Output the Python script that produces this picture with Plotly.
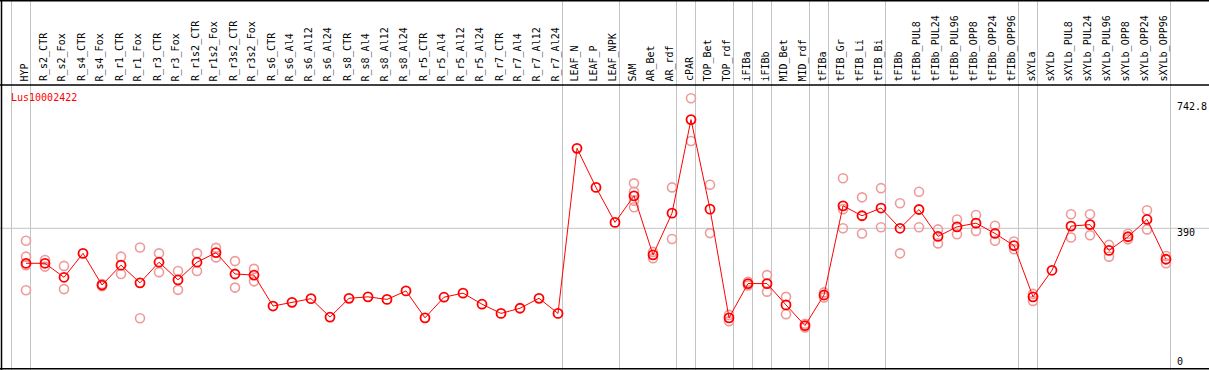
import plotly.graph_objects as go

categories = ["HYP", "R_s2_CTR", "R_s2_Fox", "R_s4_CTR", "R_s4_Fox", "R_r1_CTR", "R_r1_Fox",
              "R_r3_CTR", "R_r3_Fox", "R_r1s2_CTR", "R_r1s2_Fox", "R_r3s2_CTR", "R_r3s2_Fox",
              "R_s6_CTR", "R_s6_Al4", "R_s6_Al12", "R_s6_Al24", "R_s8_CTR", "R_s8_Al4",
              "R_s8_Al12", "R_s8_Al24", "R_r5_CTR", "R_r5_Al4", "R_r5_Al12", "R_r5_Al24",
              "R_r7_CTR", "R_r7_Al4", "R_r7_Al12", "R_r7_Al24", "LEAF_N", "LEAF_P", "LEAF_NPK",
              "SAM", "AR_Bet", "AR_rdf", "cPAR", "TOP_Bet", "TOP_rdf", "iFIBa", "iFIBb",
              "MID_Bet", "MID_rdf", "tFIBa", "tFIB_Gr", "tFIB_Li", "tFIB_Bi", "tFIBb",
              "tFIBb_PUL8", "tFIBb_PUL24", "tFIBb_PUL96", "tFIBb_OPP8", "tFIBb_OPP24",
              "tFIBb_OPP96", "sXYLa", "sXYLb", "sXYLb_PUL8", "sXYLb_PUL24", "sXYLb_PUL96",
              "sXYLb_OPP8", "sXYLb_OPP24", "sXYLb_OPP96"]

means = [295, 295, 257, 322, 236, 290, 242, 298, 250, 298, 324, 266, 263,
         179, 189, 199, 149, 200, 204, 197, 220, 147, 203, 214, 184,
         159, 173, 200, 159, 607, 501, 406,
         478, 318, 431, 685, 442, 147, 240, 240,
         182, 126, 209, 451, 424, 445, 390,
         441, 368, 394, 404, 376, 343,
         204, 276, 396, 400, 330, 367, 414, 306]

replicates = [[356, 313, 290, 222], [304, 286], [288, 225], [], [239, 233], [313, 266], [338, 146],
              [322, 271], [274, 223], [322, 274], [337, 311], [301, 229], [280, 246],
              [], [], [], [], [], [], [], [], [], [], [], [],
              [], [], [], [], [], [], [],
              [512, 489, 465, 447], [326, 309], [501, 361], [742.8, 627], [508, 377], [155, 138],
              [245, 235], [263, 218],
              [204, 157], [131, 121], [216, 202], [526, 442, 390], [474, 376], [499, 393],
              [458, 322],
              [489, 393], [387, 349], [414, 374], [426, 383], [397, 356], [354, 333],
              [212, 193], [], [428, 365], [428, 371], [345, 313], [375, 360], [439, 387],
              [315, 295]]

group_ends = [-1, 0, 28, 31, 34, 35, 37, 38, 39, 41, 42, 45, 52, 53, 60]
ref_value = 390
max_value = 742.8
gene = "Lus10002422"

W, H = 1209, 370
x0px, dxpx = 26, 19
header_px = 85
zero_px = 372
k = (zero_px - 98.3) / max_value  # px per unit

xs = list(range(len(categories)))
x_range = [-x0px / dxpx, (W - x0px) / dxpx]
y_range = [(zero_px - H) / k, (zero_px - header_px) / k]

rx, ry = [], []
for i, reps in enumerate(replicates):
    for v in reps:
        rx.append(i)
        ry.append(v)

fig = go.Figure()
fig.add_trace(go.Scatter(x=rx, y=ry, mode="markers",
                         marker=dict(symbol="circle-open", size=9, color="#EE9A9A",
                                     line=dict(width=1.6, color="#EE9A9A")),
                         hoverinfo="skip", showlegend=False))
fig.add_trace(go.Scatter(x=xs, y=means, mode="lines+markers",
                         line=dict(color="#FF0000", width=1),
                         marker=dict(symbol="circle-open", size=9, color="#FF0000",
                                     line=dict(width=1.8, color="#FF0000")),
                         showlegend=False))

shapes = []
for g in group_ends:
    xv = g + 4.5 / dxpx
    shapes.append(dict(type="line", xref="x", yref="paper", x0=xv, x1=xv, y0=0, y1=1,
                       line=dict(color="#C4C4C4", width=1), layer="below"))
shapes.append(dict(type="line", xref="paper", yref="y", x0=0, x1=1, y0=ref_value, y1=ref_value,
                   line=dict(color="#C4C4C4", width=1), layer="below"))
for ypx in [0.75, header_px, H - 1.25]:
    yp = 1 - ypx / H
    shapes.append(dict(type="line", xref="paper", yref="paper", x0=0, x1=1, y0=yp, y1=yp,
                       line=dict(color="#000000", width=1.5)))
shapes.append(dict(type="line", xref="paper", yref="paper", x0=1.5 / W, x1=1.5 / W, y0=0, y1=1,
                   line=dict(color="#000000", width=1.5)))

font_name = "DejaVu Sans Mono"
annotations = []
for i, c in enumerate(categories):
    annotations.append(dict(x=i - 0.08, y=1 - 83 / H, xref="x", yref="paper", text=c,
                            textangle=-90, showarrow=False, xanchor="center", yanchor="bottom",
                            font=dict(family=font_name, size=10, color="#000000")))
annotations.append(dict(x=9 / W, y=1 - 97 / H, xref="paper", yref="paper", text=gene,
                        showarrow=False, xanchor="left", yanchor="middle",
                        font=dict(family=font_name, size=10, color="#FF0000")))
annotations.append(dict(x=1175 / W, y=max_value, xref="paper", yref="y", text="742.8",
                        showarrow=False, xanchor="left", yanchor="middle", yshift=-8,
                        font=dict(family=font_name, size=10, color="#000000")))
annotations.append(dict(x=1175 / W, y=ref_value, xref="paper", yref="y", text=str(ref_value),
                        showarrow=False, xanchor="left", yanchor="middle", yshift=-4,
                        font=dict(family=font_name, size=10, color="#000000")))
annotations.append(dict(x=1175 / W, y=1 - 361 / H, xref="paper", yref="paper", text="0",
                        showarrow=False, xanchor="left", yanchor="middle",
                        font=dict(family=font_name, size=10, color="#000000")))

fig.update_layout(
    width=W, height=H, margin=dict(l=0, r=0, t=0, b=0),
    paper_bgcolor="white", plot_bgcolor="white",
    xaxis=dict(range=x_range, visible=False, fixedrange=True),
    yaxis=dict(range=y_range, domain=[0, 1 - header_px / H], visible=False, fixedrange=True),
    shapes=shapes, annotations=annotations,
)
fig.write_html("out.html", config={"displayModeBar": False},
               post_script="document.body.style.margin='0';document.body.style.overflow='hidden';")
